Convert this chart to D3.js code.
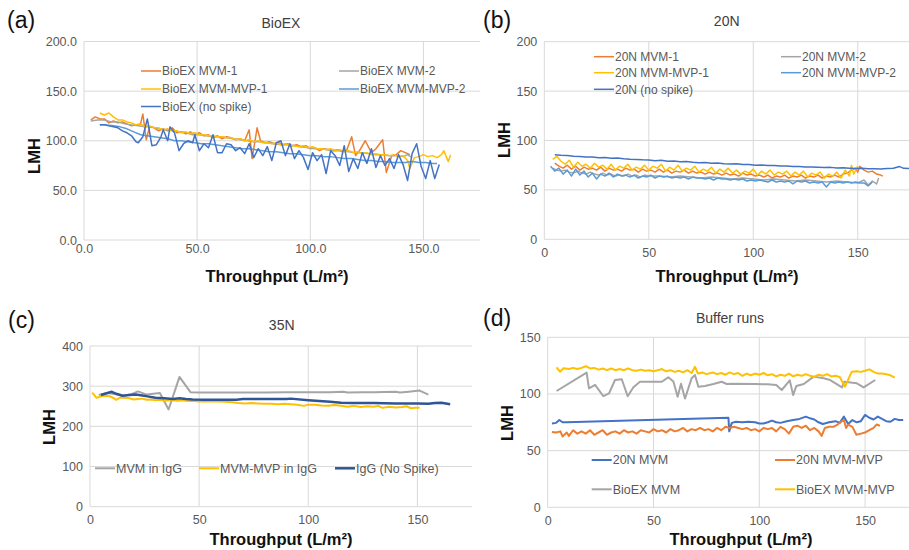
<!DOCTYPE html>
<html>
<head>
<meta charset="utf-8">
<script src="https://cdn.jsdelivr.net/npm/d3@7"></script>
<style>
  body { margin: 0; background: #fff; }
  svg { display: block; font-family: "Liberation Sans", Arial, sans-serif; }
</style>
</head>
<body>
<div id="chart"></div>
<script>
// ---- data: [throughput (L/m2), LMH] ----

// (a) BioEX
const bioexMvm1 = [[3,121],[5,124],[7,122],[9,122],[11,118],[13,120],[15,118],[17,119],[19,117],[21,115],[23,116],[25,117],[26,127],[27.5,101],[29,114],[31,113],[33,110],[35,112],[37,110],[39,113],[41,108],[43,109],[45,107],[47,109],[49,106],[51,108],[53,105],[55,106],[57,103],[59,105],[61,102],[63,104],[65,103],[67,101],[69,102],[71,100],[73,111],[74.3,82],[76.5,113],[78,100],[80,98],[82,99],[84,97],[86,98],[88,96],[90,97],[92,95],[94,96],[96,94],[98,95],[100,92],[102,93],[104,90],[106,92],[108,91],[110,90],[112,91],[114,89],[116,90],[118.3,104],[120,85],[122,91],[124.3,100],[127,88],[129,92],[132,101],[133.6,68],[136,85],[138,86],[140,90],[142,88],[144,86]];
const bioexMvm2 = [[3,120],[6,121],[9,121],[12,119],[15,119],[18,117],[21,116],[24,115],[27,114],[30,114],[33,112],[36,111],[39,110],[42,109],[45,108],[48,106],[51,106],[54,105],[57,104],[60,104],[63,103],[66,102],[69,101],[72,100],[75,99],[78,99],[81,98],[84,97],[87,96],[90,96],[93,95],[96,94],[99,93],[102,92],[105,92],[108,91],[111,90],[114,90],[117,89],[120,88],[123,88],[126,87],[129,86],[132,86],[135,85],[138,85],[141,84],[143,86],[145,83]];
const bioexMvp1 = [[7,128],[9,126],[11,128],[13,124],[15,121],[17,121],[19,119],[21,118],[23,116],[25,117],[27,114],[29,115],[31,113],[33,113],[35,111],[37,112],[39,110],[41,110],[43,108],[45,109],[47,107],[49,108],[51,106],[53,106],[55,105],[57,105],[59,104],[61,104],[63,103],[65,103],[67,101],[69,102],[71,100],[73,101],[75,99],[77,100],[79,98],[81,98],[83,97],[85,98],[87,96],[89,97],[91,95],[93,95],[95,94],[97,95],[99,93],[101,94],[103,92],[105,92],[107,91],[109,92],[111,90],[113,91],[115,89],[117,90],[119,88],[121,89],[123,87],[125,88],[127,86],[129,87],[131,86],[133,86],[135,85],[137,86],[139,84],[141,85],[143,80],[144,72],[146,83],[148,84],[150,86],[152,84],[154,85],[156,83],[158,86],[159,90],[161,79],[162,86]];
const bioexMvp2 = [[7,116],[10,116],[13,115],[16,114],[19,112],[22,109],[25,106],[28,105],[31,104],[34,103],[37,102],[40,100],[43,100],[46,99],[49,98],[52,97],[55,97],[58,96],[61,95],[64,94],[67,93],[70,92],[73,92],[76,91],[79,90],[82,89],[85,89],[88,88],[91,87],[94,87],[97,86],[100,85],[103,85],[106,84],[109,84],[112,83],[115,82],[118,82],[121,81],[124,80],[127,80],[130,79],[133,79],[136,78],[139,78],[142,78],[145,79],[148,78],[151,78],[154,77],[156,77]];
const bioexNoSpike = [[7,116],[9,116],[11,115],[13,114],[15,113],[17,110],[19,108],[21,105],[23,99],[24,98],[26,104],[28,122],[30,95],[32,96],[34,104],[35,111],[37,100],[38,114],[40,108],[42,90],[44,97],[46,100],[48,98],[49,106],[51,90],[53,97],[55,93],[57,106],[59,88],[61,88],[63,97],[65,96],[67,90],[69,93],[71,87],[73,97],[75,83],[77,92],[79,85],[81,94],[83,80],[85,98],[87,100],[89,85],[91,97],[93,82],[95,90],[97,83],[99,71],[101,88],[103,80],[105,86],[107,67],[109,90],[111,85],[113,75],[115,95],[117,69],[119,82],[121,72],[123,88],[125,77],[127,92],[129,73],[131,85],[133,75],[135,82],[137,72],[139,86],[141,76],[143,60],[145,87],[147,97],[149,74],[151,62],[153,80],[155,62],[157,76]];

// (b) 20N
const n20Mvm1 = [[5,77],[7,74],[9,72],[11,75],[13,71],[15,74],[17,70],[19,73],[21,71],[23,72],[25,70],[27,73],[29,69],[31,72],[33,70],[35,71],[37,69],[39,72],[41,70],[43,71],[45,68],[47,71],[49,69],[51,70],[53,68],[55,71],[57,68],[59,70],[61,67],[63,69],[65,68],[67,70],[69,67],[71,69],[73,67],[75,68],[77,66],[79,68],[81,66],[83,67],[85,65],[87,67],[89,65],[91,66],[93,64],[95,67],[97,65],[99,66],[101,64],[103,65],[105,63],[107,65],[109,62],[111,64],[113,63],[115,65],[117,62],[119,64],[121,63],[123,65],[125,62],[127,64],[129,63],[131,65],[133,62],[135,64],[137,63],[139,65],[141,63],[143,66],[145,67],[147,70],[149,72],[150,68],[151,74],[153,70],[155,68],[157,69],[159,66],[161,65],[162,64]];
const n20Mvm2 = [[4,72],[6,70],[8,69],[10,70],[12,68],[14,67],[16,69],[18,67],[20,66],[22,68],[24,66],[26,65],[28,67],[30,65],[32,66],[34,64],[36,65],[38,64],[40,66],[42,64],[44,65],[46,63],[48,65],[50,64],[55,64],[60,63],[65,64],[70,63],[75,62],[80,63],[85,62],[90,61],[95,62],[100,61],[105,60],[110,61],[115,60],[120,59],[125,60],[130,59],[135,58],[140,59],[145,58],[150,57],[153,60],[155,55],[157,59],[159,56],[160,62]];
const n20Mvp1 = [[4,81],[6,84],[8,79],[10,76],[12,80],[14,73],[16,78],[18,74],[20,76],[22,72],[24,77],[26,73],[28,75],[30,71],[32,76],[34,70],[36,74],[38,72],[40,76],[42,70],[44,73],[46,71],[48,75],[50,70],[52,74],[54,72],[56,76],[58,69],[60,73],[62,70],[64,75],[66,69],[68,72],[70,70],[72,74],[74,68],[76,71],[78,69],[80,73],[82,67],[84,71],[86,68],[88,72],[90,67],[92,70],[94,66],[96,69],[98,67],[100,71],[102,65],[104,69],[106,66],[108,70],[110,65],[112,68],[114,66],[116,69],[118,64],[120,68],[122,65],[124,69],[126,63],[128,67],[130,65],[132,68],[134,62],[136,66],[138,64],[140,68],[142,62],[144,70],[146,64],[147,75],[148,66],[150,74]];
const n20Mvp2 = [[3,74],[5,69],[7,72],[9,66],[11,70],[13,64],[15,71],[17,65],[19,69],[21,63],[23,67],[25,61],[27,66],[29,64],[31,67],[33,63],[35,66],[37,64],[39,65],[41,63],[43,65],[45,62],[47,64],[49,63],[51,65],[53,62],[55,64],[57,63],[59,64],[61,62],[63,63],[65,62],[67,63],[69,61],[71,63],[73,62],[75,62],[77,61],[79,62],[81,60],[83,62],[85,61],[87,61],[89,60],[91,61],[93,60],[95,61],[97,59],[99,60],[101,59],[103,60],[105,59],[107,58],[109,60],[111,58],[113,59],[115,58],[117,59],[119,56],[121,59],[123,58],[125,59],[127,57],[129,58],[131,57],[133,58],[135,53],[137,58],[139,57],[141,58],[143,57],[145,58],[147,57],[149,58],[151,57],[153,57],[155,54],[157,58]];
const n20NoSpike = [[5,85.5],[8,85],[11,84.7],[14,84],[17,83.8],[20,83.2],[23,83.4],[26,82.5],[29,82.7],[32,82],[35,82.2],[38,81.5],[41,81],[44,80.8],[47,80.4],[50,80.2],[53,79.6],[56,79.9],[59,79],[62,79.2],[65,78.5],[68,78.7],[71,78],[74,77.6],[77,77.8],[80,77],[83,77.2],[86,76.5],[89,76.2],[92,76.4],[95,75.6],[98,75.8],[101,75],[104,75.3],[107,74.6],[110,74.8],[113,74.1],[116,74.3],[119,73.6],[122,73.8],[125,73.2],[128,73.3],[131,72.9],[134,72.6],[137,72.8],[140,72.2],[143,72.3],[146,72],[149,71.7],[152,71.9],[155,71.5],[158,71.3],[161,71.2],[164,71.6],[167,72],[170,73.6],[172,71.8],[175,71.6]];

// (c) 35N
const mvmIgG = [[4,278],[8,283],[12,280],[15,276],[19,280],[22,287],[26,279],[29,281],[32,283],[36,242],[41,323],[46,285],[50,284],[60,284],[70,284],[80,284],[90,285],[100,285],[110,285],[116,286],[118,284],[125,285],[130,285],[140,286],[142,284],[146,286],[151,289],[155,279]];
const mvpIgG = [[1,284],[3,271],[5,275],[7,276],[9,275],[11,270],[12,266],[14,272],[16,271],[18,270],[20,267],[22,268],[24,269],[26,266],[28,267],[30,265],[32,266],[34,264],[36,265],[38,265],[40,264],[42,265],[44,264],[46,263],[48,263],[50,262],[53,262],[56,262],[59,262],[62,261],[65,260],[68,258],[71,257],[74,258],[77,257],[80,256],[83,256],[86,255],[89,256],[92,255],[95,254],[98,251],[100,254],[103,254],[106,252],[109,251],[112,253],[115,251],[118,249],[121,251],[124,248],[127,250],[130,249],[132,251],[134,246],[137,249],[140,247],[143,248],[145,250],[147,245],[149,246],[151,246]];
const igGNoSpike = [[5,278],[8,283],[10,286],[12,281],[15,276],[18,278],[21,279],[24,277],[27,274],[30,271],[34,270],[38,268],[41,270],[44,268],[47,267],[52,266],[60,266],[67,266],[70,268],[80,268],[90,268],[92,269],[100,265],[105,263],[110,261],[115,259],[120,258],[130,258],[140,257],[150,257],[155,256],[158,258],[161,259],[165,255]];

// (d) Buffer runs
const bufN20Mvm = [[2,74],[4,74.5],[5.5,77],[7,75],[9,75],[85.4,79],[85.8,67],[87,74.5],[89,75.5],[92,75],[95,75.5],[98,75],[100,74],[102,74],[104,75],[106,76.5],[108,75],[110,74.5],[113,76],[116,77],[119,78],[122,80],[124,78.5],[126,77.5],[128,75],[130,73.5],[133,75],[136,76],[138,74.5],[140,80],[142,73.5],[144,77],[146,75],[148,76],[150,81.5],[152,79],[154,77.5],[156,80],[158,78],[160,76],[162,75.5],[164,78],[166,77],[168,77]];
const bufN20Mvp = [[2,66.5],[4,66],[6,67],[7,62.5],[9,66],[10,63],[12,68],[14,65],[16,67],[18,65],[20,68],[22,64],[24,66],[26,68],[28,64],[30,66],[32,67],[34,65],[36,68],[38,66],[40,67],[42,65],[44,68],[46,67],[48,66],[50,69],[52,67],[54,68],[56,66],[58,69],[60,67],[62,68],[64,70],[66,67],[68,69],[70,68],[72,70],[74,68],[76,69],[78,67],[80,70],[82,68],[84,71],[86,70],[88,71],[90,70],[92,69],[94,70],[96,68],[98,69],[100,67],[102,70],[104,69],[106,70],[108,67],[110,71],[112,69],[114,65],[116,71],[118,72],[120,70],[122,72],[124,68],[126,70],[128,67],[129.5,63],[131,70],[133,71],[135,71],[137,73],[139,76],[140,77],[141,70],[142,73],[144,71],[145.9,64],[148,65],[150,66],[152,68],[154,70],[155.4,73],[157,72]];
const bufBioexMvm = [[4.2,102.6],[18.4,118.8],[19.5,105],[22.4,108],[26.3,98],[29,100.6],[31.8,112.3],[35,113],[37.8,98],[40.5,106],[43.6,110.8],[53.9,110.8],[57,114.7],[59.4,111],[61.4,97.6],[63,109],[64.9,96],[68,113.8],[69.6,116.7],[71.2,106.4],[74.3,107],[78.3,108.8],[82.2,110.8],[84.6,108.8],[87,109],[98,108.8],[104,108.5],[108,108],[110.6,103.5],[114.4,112],[116,99],[117.5,107],[121,108.8],[125.7,115.3],[130.4,113.8],[133.5,112.3],[139.1,105.8],[140.2,110.8],[146.1,109.4],[149.3,105.8],[154.8,112.3]];
const bufBioexMvp = [[4.2,123.5],[5.8,119.7],[7.5,122.6],[10,122],[12,123],[14,122],[16,123],[18,124.5],[20,122.5],[22,123],[24,121.5],[26,122.5],[28,121],[30,122.5],[32,121],[34,122],[36,121],[38,122.5],[40,121],[42,120.5],[44,121.5],[46,120.5],[48,121],[50,120],[52,121],[54,122],[56,120],[58,121],[60,119.5],[62,120.5],[64,119],[66,121],[68,118.5],[69.6,124],[71,118],[73,119],[75,117.5],[78,119],[80,117.5],[82,118.5],[84,117],[86,119],[88,117.5],[90,118.5],[92,116],[94,118],[96,116.5],[98,118],[100,117],[102,118.5],[104,116.5],[106,117.5],[108,115.5],[110,117],[112,116],[114,118],[116,115.5],[118,117],[120,116],[122,117.5],[124,116],[126,115],[128,117],[130,116],[132,117.5],[134,115.5],[136,116],[138,115],[140.5,106.4],[143.7,119.7],[146,120],[148,119.5],[150,120.5],[152,121.7],[154,119.5],[156,118],[158,118],[160,117.4],[162,116.5],[164,114.5]];

// tick values
const xTicks = [0, 50, 100, 150];
const yTicksA = [0, 50, 100, 150, 200];
const yTicksB = [0, 50, 100, 150, 200];
const yTicksC = [0, 100, 200, 300, 400];
const yTicksD = [0, 50, 100, 150];

const ORANGE = "#ED7D31", GRAY = "#A5A5A5", YELLOW = "#FFC000",
      BLUE = "#4472C4", LIGHTBLUE = "#5B9BD5", NAVY = "#2F5597";

const svg = d3.select("#chart").append("svg")
    .attr("width", 909)
    .attr("height", 550);

function drawPanel(p) {
    var x = d3.scaleLinear().domain([0, 175]).range([p.left, p.right]);
    var y = d3.scaleLinear().domain([0, p.yMax]).range([p.bottom, p.top]);
    var g = svg.append("g");

    // gridlines
    g.selectAll(".hg").data(p.yTicks).join("line")
        .attr("x1", p.left).attr("x2", p.right)
        .attr("y1", d => y(d)).attr("y2", d => y(d))
        .attr("stroke", "#D9D9D9").attr("stroke-width", 1);
    g.selectAll(".vg").data(xTicks).join("line")
        .attr("x1", d => x(d)).attr("x2", d => x(d))
        .attr("y1", p.top).attr("y2", p.bottom)
        .attr("stroke", "#D9D9D9").attr("stroke-width", 1);

    // axes
    g.append("g")
        .attr("transform", "translate(" + p.left + ",0)")
        .call(d3.axisLeft(y).tickValues(p.yTicks).tickSize(0).tickPadding(7).tickFormat(p.fmt))
        .call(a => a.select(".domain").remove())
        .selectAll("text")
        .attr("fill", "#595959").style("font-size", "12.5px")
        .style("font-family", "'Liberation Sans', Arial, sans-serif");
    g.append("g")
        .attr("transform", "translate(0," + p.bottom + ")")
        .call(d3.axisBottom(x).tickValues(xTicks).tickSize(0).tickPadding(p.xPad).tickFormat(p.fmt))
        .call(a => a.select(".domain").remove())
        .selectAll("text")
        .attr("fill", "#595959").style("font-size", "12.5px")
        .style("font-family", "'Liberation Sans', Arial, sans-serif");

    // series
    var line = d3.line().x(d => x(d[0])).y(d => y(d[1]));
    p.series.forEach(function(s) {
        g.append("path")
            .datum(s.data)
            .attr("d", line)
            .attr("fill", "none")
            .attr("stroke", s.color)
            .attr("stroke-width", s.width)
            .attr("stroke-linejoin", "round");
    });

    // legend
    p.series.forEach(function(s, i) {
        var pos = p.legend[i];
        g.append("line")
            .attr("x1", pos[0]).attr("x2", pos[0] + 20)
            .attr("y1", pos[1]).attr("y2", pos[1])
            .attr("stroke", s.color).attr("stroke-width", s.width);
        g.append("text")
            .attr("x", pos[0] + 21).attr("y", pos[1])
            .attr("dy", "0.35em")
            .attr("fill", "#595959")
            .style("font-size", p.legendFont)
            .text(s.label);
    });

    // title, panel label, axis titles
    g.append("text")
        .attr("x", p.title[1]).attr("y", p.title[2])
        .attr("text-anchor", "middle")
        .attr("fill", "#404040")
        .style("font-size", "14px")
        .text(p.title[0]);
    g.append("text")
        .attr("x", p.tag[1]).attr("y", p.tag[2])
        .attr("fill", "#111")
        .style("font-size", "23px")
        .text(p.tag[0]);
    g.append("text")
        .attr("x", p.xTitle[0]).attr("y", p.xTitle[1])
        .attr("text-anchor", "middle")
        .attr("fill", "#111")
        .style("font-size", "16.5px").style("font-weight", "bold")
        .text("Throughput (L/m²)");
    g.append("text")
        .attr("transform", "translate(" + p.yTitle[0] + "," + p.yTitle[1] + ") rotate(-90)")
        .attr("text-anchor", "middle")
        .attr("dy", "0.35em")
        .attr("fill", "#111")
        .style("font-size", "16.5px").style("font-weight", "bold")
        .text("LMH");
}

// (a) BioEX
drawPanel({
    left: 84, right: 480, top: 41.5, bottom: 240, yMax: 200,
    yTicks: yTicksA, fmt: d3.format(".1f"), xPad: 4.5,
    series: [
        {data: bioexMvm1, color: ORANGE, width: 1.5, label: "BioEX MVM-1"},
        {data: bioexMvm2, color: GRAY, width: 1.5, label: "BioEX MVM-2"},
        {data: bioexMvp1, color: YELLOW, width: 1.5, label: "BioEX MVM-MVP-1"},
        {data: bioexMvp2, color: LIGHTBLUE, width: 1.5, label: "BioEX MVM-MVP-2"},
        {data: bioexNoSpike, color: BLUE, width: 1.5, label: "BioEX (no spike)"}
    ],
    legend: [[141, 71], [339, 71], [141, 89], [339, 89], [141, 106.5]],
    legendFont: "12px",
    title: ["BioEX", 281, 27.5], tag: ["(a)", 7, 28],
    xTitle: [277, 282], yTitle: [34, 156]
});

// (b) 20N
drawPanel({
    left: 544.3, right: 910, top: 41.7, bottom: 239.3, yMax: 200,
    yTicks: yTicksB, fmt: d3.format("d"), xPad: 8.5,
    series: [
        {data: n20Mvm1, color: ORANGE, width: 1.5, label: "20N MVM-1"},
        {data: n20Mvm2, color: GRAY, width: 1.5, label: "20N MVM-2"},
        {data: n20Mvp1, color: YELLOW, width: 1.5, label: "20N MVM-MVP-1"},
        {data: n20Mvp2, color: LIGHTBLUE, width: 1.5, label: "20N MVM-MVP-2"},
        {data: n20NoSpike, color: BLUE, width: 1.5, label: "20N (no spike)"}
    ],
    legend: [[594, 56.7], [781, 56.7], [594, 72.7], [781, 72.7], [594, 89.3]],
    legendFont: "12px",
    title: ["20N", 726.7, 25.5], tag: ["(b)", 483, 28],
    xTitle: [727, 282], yTitle: [504, 140]
});

// (c) 35N
drawPanel({
    left: 90, right: 472, top: 346, bottom: 506.7, yMax: 400,
    yTicks: yTicksC, fmt: d3.format("d"), xPad: 8.5,
    series: [
        {data: mvmIgG, color: GRAY, width: 2, label: "MVM in IgG"},
        {data: mvpIgG, color: YELLOW, width: 2, label: "MVM-MVP in IgG"},
        {data: igGNoSpike, color: NAVY, width: 2.5, label: "IgG (No Spike)"}
    ],
    legend: [[95, 468.3], [199, 468.3], [335, 468.3]],
    legendFont: "12.5px",
    title: ["35N", 281.7, 330], tag: ["(c)", 8, 328],
    xTitle: [281, 545], yTitle: [49, 427]
});

// (d) Buffer runs
drawPanel({
    left: 547.7, right: 918, top: 337.3, bottom: 507.3, yMax: 150,
    yTicks: yTicksD, fmt: d3.format("d"), xPad: 8.5,
    series: [
        {data: bufN20Mvm, color: BLUE, width: 2, label: "20N MVM"},
        {data: bufN20Mvp, color: ORANGE, width: 2, label: "20N MVM-MVP"},
        {data: bufBioexMvm, color: GRAY, width: 2, label: "BioEX MVM"},
        {data: bufBioexMvp, color: YELLOW, width: 2, label: "BioEX MVM-MVP"}
    ],
    legend: [[591.7, 460], [775, 460], [591.7, 489.3], [775, 489.3]],
    legendFont: "12.5px",
    title: ["Buffer runs", 730, 323], tag: ["(d)", 483, 326],
    xTitle: [741, 545], yTitle: [507.5, 423]
});
</script>
</body>
</html>
